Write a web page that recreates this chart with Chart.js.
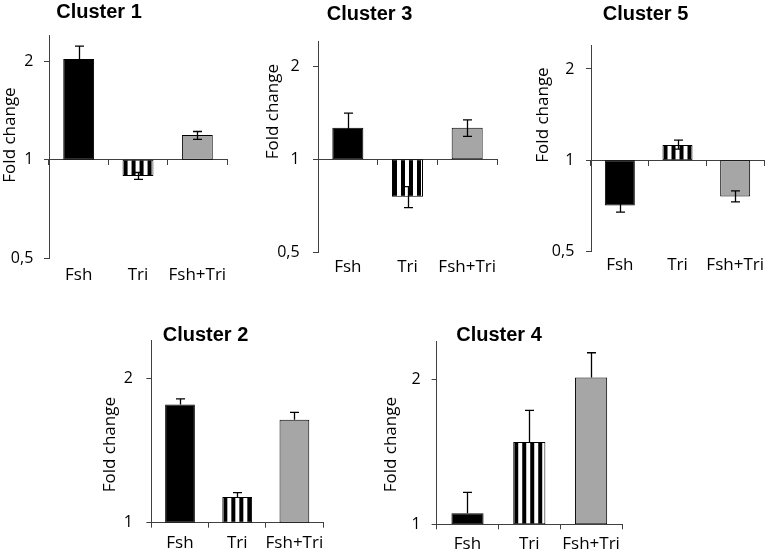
<!DOCTYPE html>
<html><head><meta charset="utf-8">
<script src="https://cdn.jsdelivr.net/npm/chart.js@4"></script>
<style>
html,body{margin:0;padding:0;background:#fff;}
body{width:768px;height:554px;overflow:hidden;position:relative;}
canvas{position:absolute;top:0;}
</style></head><body>
<script>
// ---------- data ----------
const categories = ['Fsh', 'Tri', 'Fsh+Tri'];
const axisTitle = 'Fold change';
const yTickValuesTop = [0.5, 1, 2];
const yTickLabelsTop = ['0,5', '1', '2'];
const yTickValuesBottom = [1, 2];
const yTickLabelsBottom = ['1', '2'];

const cluster1Title = 'Cluster 1';
const cluster1Values = [2.03, 0.893, 1.19];
const cluster1ErrLow = [1.86, 0.872, 1.155];
const cluster1ErrHigh = [2.22, 0.915, 1.22];

const cluster3Title = 'Cluster 3';
const cluster3Values = [1.264, 0.756, 1.264];
const cluster3ErrLow = [1.134, 0.697, 1.186];
const cluster3ErrHigh = [1.41, 0.816, 1.34];

const cluster5Title = 'Cluster 5';
const cluster5Values = [0.708, 1.121, 0.758];
const cluster5ErrLow = [0.674, 1.087, 0.728];
const cluster5ErrHigh = [0.743, 1.165, 0.792];

const cluster2Title = 'Cluster 2';
const cluster2Values = [1.766, 1.132, 1.64];
const cluster2ErrHigh = [1.815, 1.156, 1.70];

const cluster4Title = 'Cluster 4';
const cluster4Values = [1.054, 1.484, 2.022];
const cluster4ErrHigh = [1.165, 1.727, 2.276];

// ---------- layout (page pixels) ----------
const panels = [
  {title: cluster1Title, values: cluster1Values, lo: cluster1ErrLow, hi: cluster1ErrHigh, top: true,
   L: -29, X0: 49, X1: 227, Y0: 35, Y1: 258.7, Ty: 12.7, fx: 10.5, fy: 135, yPad: 10.7, xPad: 6.4},
  {title: cluster3Title, values: cluster3Values, lo: cluster3ErrLow, hi: cluster3ErrHigh, top: true,
   L: 241.7, X0: 317.7, X1: 496.7, Y0: 41.7, Y1: 252.3, Ty: 14, fx: 273.3, fy: 111.7, yPad: 13.4, xPad: 5.0},
  {title: cluster5Title, values: cluster5Values, lo: cluster5ErrLow, hi: cluster5ErrHigh, top: true,
   L: 526.7, X0: 590.7, X1: 763.3, Y0: 45, Y1: 251.3, Ty: 14, fx: 542.7, fy: 115, yPad: 11.7, xPad: 3.5},
  {title: cluster2Title, values: cluster2Values, lo: null, hi: cluster2ErrHigh, top: false,
   L: 88.3, X0: 151.7, X1: 323.3, Y0: 340.7, Y1: 522.7, Ty: 335.5, fx: 110.7, fy: 444.7, yPad: 13.4, xPad: 5.4},
  {title: cluster4Title, values: cluster4Values, lo: null, hi: cluster4ErrHigh, top: false,
   L: 376.1, X0: 436.7, X1: 622.3, Y0: 341.7, Y1: 524.3, Ty: 335.5, fx: 391, fy: 444.7, yPad: 11, xPad: 4.7}
];

const AXIS_COLOR = '#404040';
const GRAY_FILL = '#a6a6a6';
const FONT_FAMILY = '"Open Sans", Lato, "Liberation Sans", sans-serif';
const Y_TICK_FONT = {family: FONT_FAMILY, size: 16, lineHeight: 1.2};
const X_TICK_FONT = {family: FONT_FAMILY, size: 17, lineHeight: 1.2};
const PAGE_H = 554, HX = 40, PR = 30, TITLE_LH = 10;

function makeStripePattern() {
  const c = document.createElement('canvas');
  c.width = 8; c.height = 1;
  const g = c.getContext('2d');
  g.fillStyle = '#fff'; g.fillRect(0, 0, 8, 1);
  g.fillStyle = '#000'; g.fillRect(0, 0, 4, 1);
  return document.createElement('canvas').getContext('2d').createPattern(c, 'repeat');
}

const errorBarsPlugin = {
  id: 'errorBars',
  beforeDatasetsDraw(chart, args, opts) {
    const meta = chart.getDatasetMeta(0);
    const bar = meta.data[1];
    if (opts.pattern && bar) {
      const left = bar.x - bar.width / 2;
      opts.pattern.setTransform(new DOMMatrix([1, 0, 0, 1, left + 1, 0]));
    }
  },
  afterDatasetsDraw(chart, args, opts) {
    const ctx = chart.ctx;
    const y = chart.scales.y;
    const meta = chart.getDatasetMeta(0);
    ctx.save();
    ctx.strokeStyle = '#000';
    ctx.lineWidth = 1.3;
    const cap = 4.5;
    meta.data.forEach((bar, i) => {
      const x = Math.round(bar.x) + 0.5;
      const yHi = y.getPixelForValue(opts.hi[i]);
      const yLo = opts.lo ? y.getPixelForValue(opts.lo[i]) : y.getPixelForValue(opts.values[i]);
      ctx.beginPath();
      ctx.moveTo(x, yLo); ctx.lineTo(x, yHi);
      ctx.moveTo(x - cap, yHi); ctx.lineTo(x + cap, yHi);
      if (opts.lo) { ctx.moveTo(x - cap, yLo); ctx.lineTo(x + cap, yLo); }
      ctx.stroke();
    });
    ctx.restore();
  },
  afterDraw(chart, args, opts) {
    const ctx = chart.ctx;
    ctx.save();
    ctx.translate(opts.fx, opts.fy);
    ctx.rotate(-Math.PI / 2);
    ctx.fillStyle = '#000';
    ctx.font = '17px ' + FONT_FAMILY;
    ctx.textAlign = 'center';
    ctx.textBaseline = 'middle';
    ctx.fillText(opts.text, 0, 0);
    ctx.restore();
  }
};

panels.forEach(p => {
  const W = Math.round(p.X1 - p.L + PR);
  const canvas = document.createElement('canvas');
  canvas.width = W; canvas.height = PAGE_H;
  canvas.style.left = p.L + 'px';
  canvas.style.width = W + 'px'; canvas.style.height = PAGE_H + 'px';
  document.body.appendChild(canvas);

  const pattern = makeStripePattern();
  const tickVals = p.top ? yTickValuesTop : yTickValuesBottom;
  const tickLabels = p.top ? yTickLabelsTop : yTickLabelsBottom;
  const ptop = p.Ty - TITLE_LH / 2;
  const tb = p.Y0 - ptop - TITLE_LH;
  const pb = PAGE_H - p.Y1 - HX;
  const wy = p.X0 - p.L;

  const scales = {
    x: {
      type: 'category', position: 'bottom', offset: true,
      grid: p.top ? {display: false, drawTicks: false, tickLength: 0}
                  : {display: true, drawOnChartArea: false, drawTicks: true, tickLength: 5, offset: true, color: AXIS_COLOR, lineWidth: 1},
      border: p.top ? {display: false} : {display: true, color: AXIS_COLOR, width: 1},
      ticks: {color: '#000', font: X_TICK_FONT, padding: p.xPad, maxRotation: 0, autoSkip: false},
      afterFit: s => { s.height = HX; }
    },
    y: {
      type: 'logarithmic', position: 'left',
      min: p.top ? 0.5 : 1, max: 2.4,
      afterBuildTicks: s => { s.ticks = tickVals.map(v => ({value: v})); },
      grid: {display: true, drawOnChartArea: false, drawTicks: true, tickLength: 5, color: AXIS_COLOR, lineWidth: 1},
      border: {display: true, color: AXIS_COLOR, width: 1},
      ticks: {color: '#000', font: Y_TICK_FONT, padding: p.yPad,
        callback: (v) => { const k = tickVals.indexOf(v); return k >= 0 ? tickLabels[k] : ''; }},
      afterFit: s => { s.width = wy; }
    }
  };
  if (p.top) {
    scales.x2 = {
      type: 'category', position: {y: 1}, offset: true,
      grid: {display: true, drawOnChartArea: false, drawTicks: true, tickLength: 5, offset: true, color: AXIS_COLOR, lineWidth: 1},
      border: {display: true, color: AXIS_COLOR, width: 1},
      ticks: {display: false}
    };
  }

  new Chart(canvas, {
    type: 'bar',
    data: {
      labels: categories,
      datasets: [{
        data: p.values.map(v => [1, v]),
        backgroundColor: ['#000000', pattern, GRAY_FILL],
        borderColor: '#000',
        borderWidth: 1,
        borderSkipped: false,
        barPercentage: 0.52,
        categoryPercentage: 1,
        xAxisID: 'x', yAxisID: 'y'
      }]
    },
    options: {
      responsive: false, animation: false, events: [],
      devicePixelRatio: 1,
      layout: {padding: {left: 0, right: PR, top: ptop, bottom: pb}},
      plugins: {
        legend: {display: false},
        tooltip: {enabled: false},
        title: {display: true, text: p.title, color: '#000',
          font: {family: '"Liberation Sans", Arial, sans-serif', weight: 'bold', size: 20, lineHeight: TITLE_LH / 20},
          padding: {top: 0, bottom: tb}},
        errorBars: {values: p.values, lo: p.lo, hi: p.hi, pattern: pattern,
          fx: p.fx - p.L, fy: p.fy, text: axisTitle}
      },
      scales: scales
    },
    plugins: [errorBarsPlugin]
  });
});
</script>
</body></html>
